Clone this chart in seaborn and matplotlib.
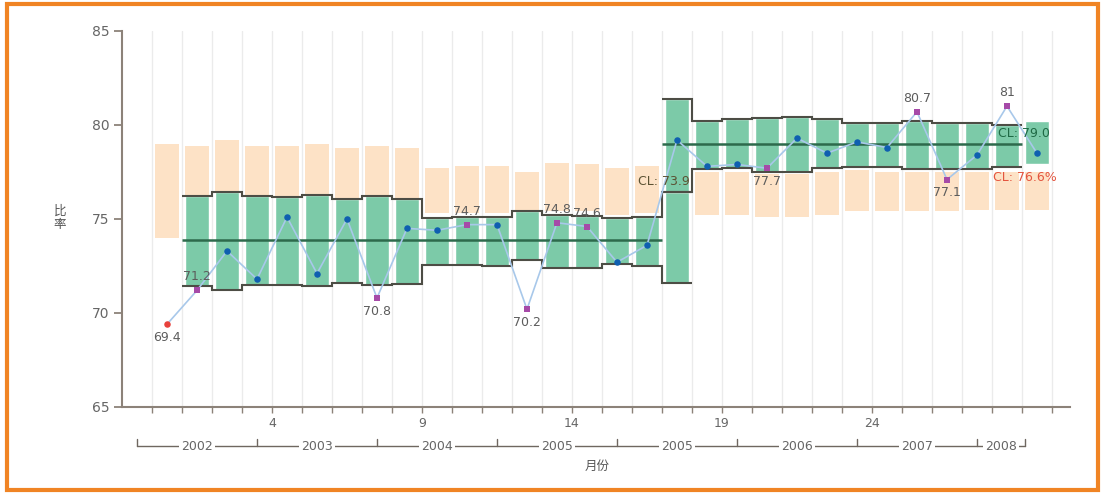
import numpy as np
import pandas as pd
import matplotlib
matplotlib.use("Agg")
import matplotlib.pyplot as plt
import matplotlib.patches as mpatches
import seaborn as sns

# ---- data -------------------------------------------------------------
values = [69.4, 71.2, 73.3, 71.8, 75.1, 72.1, 75.0, 70.8, 74.5, 74.4,
          74.7, 74.7, 70.2, 74.8, 74.6, 72.7, 73.6, 79.2, 77.8, 77.9,
          77.7, 79.3, 78.5, 79.1, 78.8, 80.7, 77.1, 78.4, 81.0, 78.5]
flags = ["out", "warn", "ok", "ok", "ok", "ok", "ok", "warn", "ok", "ok",
         "warn", "ok", "warn", "warn", "warn", "ok", "ok", "ok", "ok", "ok",
         "warn", "ok", "ok", "ok", "ok", "warn", "warn", "ok", "warn", "ok"]

# reference band per period
band_low = [74.0, 74.0, 74.0, 74.0, 74.0, 74.0, 74.0, 74.0, 74.0, 75.3,
            75.3, 75.3, 75.4, 75.4, 75.4, 75.2, 75.3, 75.3, 75.2, 75.2,
            75.1, 75.1, 75.2, 75.4, 75.4, 75.4, 75.4, 75.5, 75.5, 75.5]
band_high = [79.0, 78.9, 79.2, 78.9, 78.9, 79.0, 78.8, 78.9, 78.8, 77.7,
             77.8, 77.8, 77.5, 78.0, 77.9, 77.7, 77.8, 77.6, 77.5, 77.5,
             77.4, 77.4, 77.5, 77.6, 77.5, 77.5, 77.5, 77.5, 77.5, 77.5]

# phase 1 control limits (periods 2-18), centre line 73.9
ucl1 = [76.2, 76.45, 76.2, 76.15, 76.3, 76.05, 76.2, 76.05, 75.05, 75.1,
        75.1, 75.4, 75.2, 75.15, 75.05, 75.1, 76.45]
lcl1 = [71.45, 71.2, 71.5, 71.5, 71.45, 71.6, 71.5, 71.55, 72.55, 72.55,
        72.5, 72.8, 72.4, 72.4, 72.6, 72.5, 71.6]
cl1 = 73.9

# phase 2 control limits (periods 18-30), centre line 79.0
ucl2 = [81.4, 80.2, 80.3, 80.35, 80.45, 80.3, 80.1, 80.1, 80.2, 80.1,
        80.1, 80.0, 80.2]
lcl2 = [76.45, 77.65, 77.7, 77.5, 77.5, 77.7, 77.75, 77.75, 77.65, 77.65,
        77.65, 77.75, 77.9]
cl2 = 79.0
target_text = "CL: 76.6%"

year_labels = ["2002", "2003", "2004", "2005", "2005", "2006", "2007", "2008"]
year_edges = [-0.5, 3.5, 7.5, 11.5, 15.5, 19.5, 23.5, 27.5, 29.1]
tick_labels = {4: "4", 9: "9", 14: "14", 19: "19", 24: "24"}
label_side = {0: "below", 1: "above", 7: "below", 10: "above", 12: "below",
              13: "above", 14: "above", 20: "below", 25: "above",
              26: "below", 28: "above"}

# ---- styling ----------------------------------------------------------
sns.set_theme(style="white")
plt.rcParams["font.family"] = ["DejaVu Sans", "Noto Sans CJK SC"]

ORANGE = "#fde2c6"
GREEN = "#7ccaa8"
LIMIT = "#4d4d45"
CLINE = "#2d6a4c"
LINE = "#a8c8ea"
GRID = "#ebebeb"
AXIS = "#8c8279"
TEXT = "#5c5c5c"
point_colors = {"ok": "#0f5fb0", "warn": "#a64aa8", "out": "#e8413c"}
point_markers = {"ok": "o", "warn": "s", "out": "o"}

fig = plt.figure(figsize=(11.05, 4.95), dpi=100)
ax = fig.add_axes([0.1104, 0.1778, 0.8579, 0.7596])

n = len(values)
x = np.arange(n) + 0.5
df = pd.DataFrame({"period": x, "value": values, "flag": flags})

# vertical grid
for g in range(0, 31):
    ax.axvline(g, color=GRID, lw=1, zorder=0)

# reference band bars
w = 0.8
ax.bar(x, np.array(band_high) - np.array(band_low), bottom=band_low,
       width=w, color=ORANGE, zorder=1, linewidth=0)

# control-limit boxes
x1 = x[1:18]
ax.bar(x1, np.array(ucl1) - np.array(lcl1), bottom=lcl1, width=w,
       color=GREEN, zorder=2, edgecolor="white", linewidth=1)
x2 = x[17:30]
ax.bar(x2, np.array(ucl2) - np.array(lcl2), bottom=lcl2, width=w,
       color=GREEN, zorder=2, edgecolor="white", linewidth=1)

# stepped limits and centre lines
ax.stairs(ucl1, np.arange(1, 19), baseline=None, color=LIMIT, lw=1.5, zorder=3)
ax.stairs(lcl1, np.arange(1, 19), baseline=None, color=LIMIT, lw=1.5, zorder=3)
ax.hlines(cl1, 1, 17, color=CLINE, lw=1.8, zorder=3)
ax.stairs(ucl2[:12], np.arange(17, 30), baseline=None, color=LIMIT, lw=1.5, zorder=3)
ax.stairs(lcl2[:12], np.arange(17, 30), baseline=None, color=LIMIT, lw=1.5, zorder=3)
ax.hlines(cl2, 17, 29, color=CLINE, lw=1.8, zorder=3)

# series
sns.lineplot(data=df, x="period", y="value", ax=ax, color=LINE, lw=1.2,
             estimator=None, sort=False, zorder=4)
for flag in ["ok", "warn", "out"]:
    sub = df[df["flag"] == flag]
    sns.scatterplot(data=sub, x="period", y="value", ax=ax,
                    color=point_colors[flag], marker=point_markers[flag],
                    s=22 if flag != "warn" else 18, linewidth=0, zorder=5)

# value labels
for i, side in label_side.items():
    dy = 5 if side == "above" else -5
    ax.annotate(f"{values[i]:g}", (x[i], values[i]), xytext=(0, dy),
                textcoords="offset points", ha="center",
                va="bottom" if side == "above" else "top",
                fontsize=9, color=TEXT, zorder=6)

ax.text(16.2, 76.97, f"CL: {cl1:.1f}", fontsize=9, color="#5b5233",
        va="center", ha="left", zorder=6)
ax.text(28.2, 79.57, f"CL: {cl2:.1f}", fontsize=9, color="#1f6a45",
        va="center", ha="left", zorder=6)
ax.text(28.03, 77.23, target_text, fontsize=9, color="#e4553f",
        va="center", ha="left", zorder=6)

# axes
ax.set_xlim(-1, 30.6)
ax.set_ylim(65, 85)
ax.set_yticks([65, 70, 75, 80, 85])
ax.set_xticks(range(0, 31))
ax.set_xticklabels([tick_labels.get(t, "") for t in range(0, 31)])
ax.set_xlabel("")
ax.set_ylabel("")
for side in ["top", "right"]:
    ax.spines[side].set_visible(False)
for side in ["left", "bottom"]:
    ax.spines[side].set_color(AXIS)
    ax.spines[side].set_linewidth(1.5)
ax.tick_params(axis="y", length=6, width=1.3, color=AXIS, labelsize=10,
               labelcolor="#666666", pad=3, left=True)
ax.tick_params(axis="x", length=4, width=1.0, color=AXIS, labelsize=9,
               labelcolor="#666666", pad=3, bottom=True)

# year brackets under the axis
tr = ax.get_xaxis_transform()
yb = -0.104
ax.plot([year_edges[0], year_edges[-1]], [yb, yb], color="#6f6760", lw=1,
        transform=tr, clip_on=False)
for e in year_edges:
    ax.plot([e, e], [yb, yb + 0.018], color="#6f6760", lw=1,
            transform=tr, clip_on=False)
for k, lab in enumerate(year_labels):
    xm = (year_edges[k] + year_edges[k + 1]) / 2
    ax.text(xm, yb, lab, transform=tr, ha="center", va="center",
            fontsize=9, color="#666666", clip_on=False,
            bbox=dict(boxstyle="square,pad=0.15", fc="white", ec="none"))

fig.text(597 / 1105, 1 - 466 / 495, "月份", ha="center", va="center",
         fontsize=9, color="#555555")
fig.text(60 / 1105, 1 - 218 / 495, "比\n率", ha="center", va="center",
         fontsize=9, color="#555555", linespacing=1.0)

# frame around the figure
fig.patches.append(mpatches.Rectangle((0.006, 0.01), 0.988, 0.982,
                                      transform=fig.transFigure,
                                      fill=False, ec="#f08424", lw=3))

fig.savefig("out.png", dpi=100)
